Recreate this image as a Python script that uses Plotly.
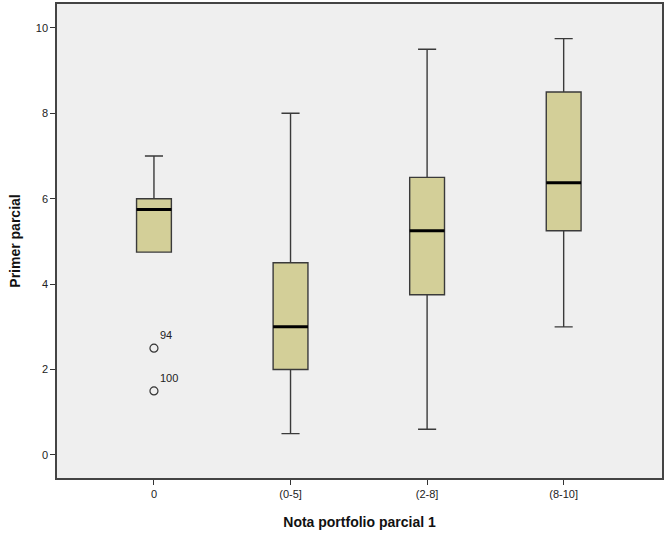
import plotly.graph_objects as go

# Summary statistics of "Primer parcial" per portfolio grade band
categories = ["0", "(0-5]", "(2-8]", "(8-10]"]
lower_whisker = [4.75, 0.5, 0.6, 3.0]
q1 = [4.75, 2.0, 3.75, 5.25]
median = [5.75, 3.0, 5.25, 6.375]
q3 = [6.0, 4.5, 6.5, 8.5]
upper_whisker = [7.0, 8.0, 9.5, 9.75]

# Outliers (category index, value, case id)
outlier_cat = [0, 0]
outlier_val = [2.5, 1.5]
outlier_id = ["94", "100"]

xpos = list(range(len(categories)))
box_w = 0.255

fig = go.Figure()

fig.add_trace(go.Box(
    x=xpos,
    q1=q1, median=median, q3=q3,
    lowerfence=lower_whisker, upperfence=upper_whisker,
    width=box_w,
    whiskerwidth=0.52,
    fillcolor="#d3cf98",
    line=dict(color="#3a3a3a", width=1.4),
    boxpoints=False,
    showlegend=False,
    hoverinfo="skip",
))

# Heavier median bars drawn on top of each box
mx, my = [], []
for i, m in zip(xpos, median):
    mx += [i - box_w / 2, i + box_w / 2, None]
    my += [m, m, None]
fig.add_trace(go.Scatter(
    x=mx, y=my, mode="lines",
    line=dict(color="black", width=3),
    showlegend=False, hoverinfo="skip",
))

fig.add_trace(go.Scatter(
    x=outlier_cat, y=outlier_val,
    mode="markers+text",
    marker=dict(symbol="circle-open", size=8, color="#333333", line=dict(width=1.2)),
    text=outlier_id,
    textposition="top right",
    textfont=dict(family="Liberation Sans, Arial", size=11, color="#222222"),
    showlegend=False, hoverinfo="skip",
))

fig.update_layout(
    width=666, height=533,
    margin=dict(l=57, r=2, t=4, b=55),
    paper_bgcolor="white",
    plot_bgcolor="#efefef",
    font=dict(family="Liberation Sans, Arial", size=11, color="#222222"),
    xaxis=dict(
        range=[-0.71, 3.72],
        tickvals=xpos, ticktext=categories,
        ticks="outside", ticklen=5, tickcolor="#333333",
        showgrid=False, zeroline=False,
        showline=True, linecolor="#444444", linewidth=1.5, mirror=True,
        title=dict(text="<b>Nota portfolio parcial 1</b>",
                   font=dict(size=14, color="#111111"), standoff=18),
    ),
    yaxis=dict(
        range=[-0.54, 10.56],
        tickvals=[0, 2, 4, 6, 8, 10],
        ticks="outside", ticklen=5, tickcolor="#333333",
        showgrid=False, zeroline=False,
        showline=True, linecolor="#444444", linewidth=1.5, mirror=True,
        title=dict(text="<b>Primer parcial</b>",
                   font=dict(size=14, color="#111111"), standoff=12),
    ),
)

fig.write_html("out.html")
